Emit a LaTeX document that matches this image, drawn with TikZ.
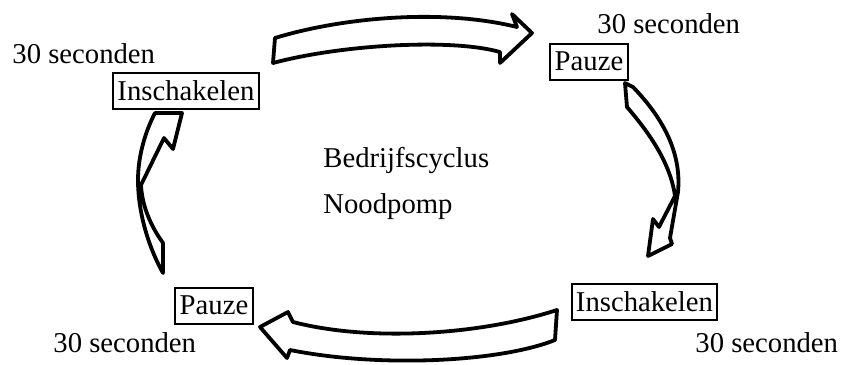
\documentclass[tikz,border=0pt]{standalone}
\usepackage{fontspec}
\setmainfont{Liberation Serif}
\begin{document}
\begin{tikzpicture}[x=0.5pt,y=-0.5pt,
  txt/.style={inner sep=0pt,anchor=base west,font=\fontsize{14.35}{17}\selectfont},
  boxed/.style={draw,line width=1pt,inner xsep=2.2pt,inner ysep=0pt,minimum height=18pt,font=\fontsize{14.35}{17}\selectfont},
  blockarrow/.style={draw,line width=1.9pt,line join=round,fill=white}]
\useasboundingbox (0,0) rectangle (843,365);
% labels
\node[txt] (s1) at (12,63) {30 seconden};
\node[txt] (s2) at (597,33) {30 seconden};
\node[txt] (s3) at (53,352) {30 seconden};
\node[txt] (s4) at (695,352) {30 seconden};
\node[boxed] (in1) at (186,91) {Inschakelen};
\node[boxed] (p1) at (589,61.5) {Pauze};
\node[boxed] (in2) at (644.5,302) {Inschakelen};
\node[boxed] (p2) at (214,305.5) {Pauze};
\node[txt] (c1) at (323,167) {Bedrijfscyclus};
\node[txt] (c2) at (323,213) {Noodpomp};
% top arrow
\draw[blockarrow] (273,63) -- (275,38) .. controls (340,18) and (440,8) .. (517,27)
  -- (512,14) -- (532,33) -- (500,63) -- (500,52)
  .. controls (450,38) and (340,45) .. cycle;
% right arrow
\draw[blockarrow] (625,83) -- (633,87) .. controls (660,115) and (682,150) .. (678,192)
  -- (670,238) -- (672,244) -- (648,256) -- (653,219) -- (659,227) -- (675,196)
  .. controls (670,160) and (645,128) .. (627,107) -- cycle;
% bottom arrow
\draw[blockarrow] (557,310) -- (555,340) .. controls (500,362) and (380,368) .. (290,350)
  -- (287,358) -- (260,327) -- (288,312) -- (293,322)
  .. controls (370,342) and (480,335) .. cycle;
% left arrow
\draw[blockarrow] (163,273) -- (163,243) .. controls (150,225) and (142,205) .. (141,185)
  -- (164,138) -- (173,149) -- (182,113) -- (155,113)
  .. controls (146,130) and (138,155) .. (138,180)
  .. controls (138,215) and (150,250) .. cycle;
\end{tikzpicture}
\end{document}
